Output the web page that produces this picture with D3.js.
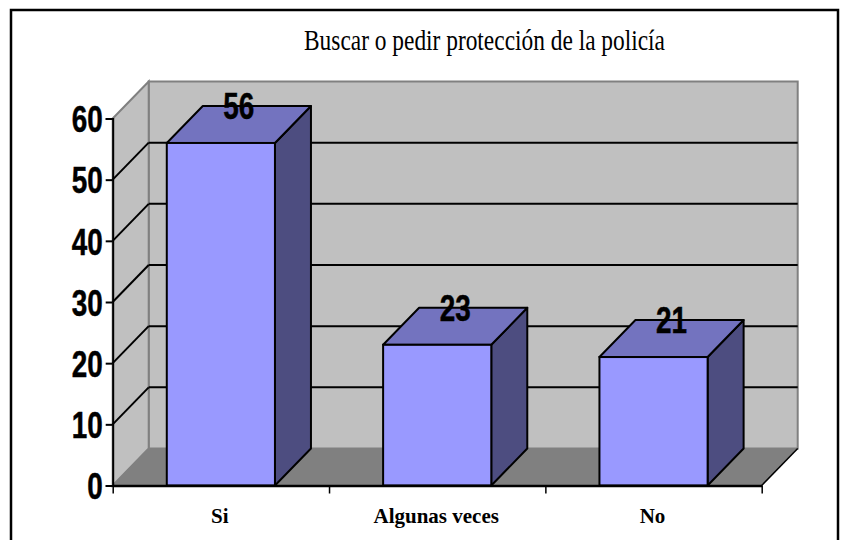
<!DOCTYPE html>
<html>
<head>
<meta charset="utf-8">
<script src="https://cdn.jsdelivr.net/npm/d3@7"></script>
<style>
	html, body { margin: 0; padding: 0; background: #fff; overflow: hidden; }
	.narrow { font-family: "Liberation Sans", sans-serif; font-weight: bold; font-size: 37px; fill: #000; stroke: #000; stroke-width: 0.5px; }
	.cat { font-family: "Liberation Serif", serif; font-weight: bold; font-size: 21px; fill: #000; }
</style>
</head>
<body>
<div id="chart"></div>
<script>
// Chart values
var titleText = "Buscar o pedir protección de la policía";
var categories = ["Si", "Algunas veces", "No"];
var values = [56, 23, 21];
var yTicks = [0, 10, 20, 30, 40, 50, 60];

// Set up SVG width and height
var svgWidth = 849;
var svgHeight = 540;

// Plot front edge and the 3D depth offset
var left = 112.7, right = 761.7, bottom = 485.5, top60 = 118.5;
var depthX = 36, depthY = 37;

// Width of one squeezed digit in the big labels
var digitWidth = 15.5;

var svg = d3.select("#chart")
	.append("svg")
	.attr("width", svgWidth)
	.attr("height", svgHeight)
	.style("display", "block");

var x = d3.scaleBand()
	.domain(categories)
	.range([left, right])
	.paddingInner(0.5)
	.paddingOuter(0.25);

var y = d3.scaleLinear()
	.domain([0, 60])
	.range([bottom, top60]);

// Outer frame
svg.append("rect")
	.attr("x", 11)
	.attr("y", 10)
	.attr("width", 827)
	.attr("height", 540)
	.attr("fill", "#fff")
	.attr("stroke", "#000")
	.attr("stroke-width", 2.5);

// Title
svg.append("text")
	.attr("x", 304)
	.attr("y", 50)
	.attr("textLength", 361)
	.attr("lengthAdjust", "spacingAndGlyphs")
	.style("font-family", "'Liberation Serif', serif")
	.style("font-size", "30px")
	.style("fill", "#000")
	.text(titleText);

function pts(list) {
	return list.map(p => p.join(",")).join(" ");
}

// Back wall, side wall and floor
svg.append("rect")
	.attr("x", left + depthX)
	.attr("y", y(60) - depthY)
	.attr("width", right - left)
	.attr("height", y(0) - y(60))
	.attr("fill", "#c0c0c0")
	.attr("stroke", "#808080")
	.attr("stroke-width", 2);

svg.append("polygon")
	.attr("points", pts([[left, y(60)], [left + depthX, y(60) - depthY], [left + depthX, y(0) - depthY], [left, y(0)]]))
	.attr("fill", "#c0c0c0")
	.attr("stroke", "#808080")
	.attr("stroke-width", 2);

svg.append("polygon")
	.attr("points", pts([[left, y(0)], [left + depthX, y(0) - depthY], [right + depthX, y(0) - depthY], [right, y(0)]]))
	.attr("fill", "#808080");

svg.append("line")
	.attr("x1", right)
	.attr("y1", y(0))
	.attr("x2", right + depthX)
	.attr("y2", y(0) - depthY)
	.attr("stroke", "#000")
	.attr("stroke-width", 1.5);

// Gridlines on back wall and side wall
var gridTicks = yTicks.filter(d => d > 0 && d < 60);

svg.selectAll(".gridBack")
	.data(gridTicks)
	.enter()
	.append("line")
	.attr("x1", left + depthX)
	.attr("x2", right + depthX)
	.attr("y1", d => y(d) - depthY)
	.attr("y2", d => y(d) - depthY)
	.attr("stroke", "#000")
	.attr("stroke-width", 2);

svg.selectAll(".gridSide")
	.data(gridTicks)
	.enter()
	.append("line")
	.attr("x1", left)
	.attr("x2", left + depthX)
	.attr("y1", d => y(d))
	.attr("y2", d => y(d) - depthY)
	.attr("stroke", "#000")
	.attr("stroke-width", 2);

// Bars: side, top, front
var bars = svg.selectAll(".bar")
	.data(categories.map((c, i) => ({ cat: c, val: values[i] })))
	.enter()
	.append("g")
	.attr("class", "bar");

bars.append("polygon")
	.attr("points", d => {
		var xr = x(d.cat) + x.bandwidth();
		return pts([[xr, y(d.val)], [xr + depthX, y(d.val) - depthY], [xr + depthX, y(0) - depthY], [xr, y(0)]]);
	})
	.attr("fill", "#4d4d80")
	.attr("stroke", "#000")
	.attr("stroke-width", 2)
	.attr("stroke-linejoin", "round");

bars.append("polygon")
	.attr("points", d => {
		var xl = x(d.cat), xr = xl + x.bandwidth();
		return pts([[xl, y(d.val)], [xl + depthX, y(d.val) - depthY], [xr + depthX, y(d.val) - depthY], [xr, y(d.val)]]);
	})
	.attr("fill", "#7373bf")
	.attr("stroke", "#000")
	.attr("stroke-width", 2)
	.attr("stroke-linejoin", "round");

bars.append("rect")
	.attr("x", d => x(d.cat))
	.attr("y", d => y(d.val))
	.attr("width", x.bandwidth())
	.attr("height", d => y(0) - y(d.val))
	.attr("fill", "#9999ff")
	.attr("stroke", "#000")
	.attr("stroke-width", 2);

// Value labels sit on the back edge of the bar top
bars.append("text")
	.attr("class", "narrow")
	.attr("x", d => x(d.cat) + x.bandwidth() / 2 + depthX / 2)
	.attr("y", d => y(d.val) - depthY + 13)
	.attr("text-anchor", "middle")
	.attr("textLength", d => String(d.val).length * digitWidth)
	.attr("lengthAdjust", "spacingAndGlyphs")
	.text(d => d.val);

// Y axis
var yAxis = svg.append("g")
	.attr("transform", `translate(${left}, 0)`)
	.call(d3.axisLeft(y).tickValues(yTicks).tickSize(7).tickPadding(3));

yAxis.selectAll("text")
	.attr("class", "narrow")
	.attr("dy", "0.36em")
	.attr("textLength", d => String(d).length * digitWidth)
	.attr("lengthAdjust", "spacingAndGlyphs");

yAxis.selectAll("line").attr("stroke", "#000").attr("stroke-width", 2);
yAxis.select(".domain").attr("stroke", "#000").attr("stroke-width", 2);

// X axis: tick marks fall between the categories
var xEdges = d3.scaleLinear().domain([0, categories.length]).range([left, right]);

var xAxis = svg.append("g")
	.attr("transform", `translate(0, ${bottom})`)
	.call(d3.axisBottom(xEdges).tickValues(d3.range(categories.length + 1)).tickSize(8).tickSizeOuter(0).tickFormat(""));

xAxis.selectAll("line").attr("stroke", "#000").attr("stroke-width", 1.5);
xAxis.select(".domain").attr("stroke", "#000").attr("stroke-width", 2.5);

var xLabels = svg.append("g")
	.attr("transform", `translate(-1, ${bottom})`)
	.call(d3.axisBottom(x).tickSize(0).tickPadding(23));

xLabels.select(".domain").remove();
xLabels.selectAll("text").attr("class", "cat");
</script>
</body>
</html>
